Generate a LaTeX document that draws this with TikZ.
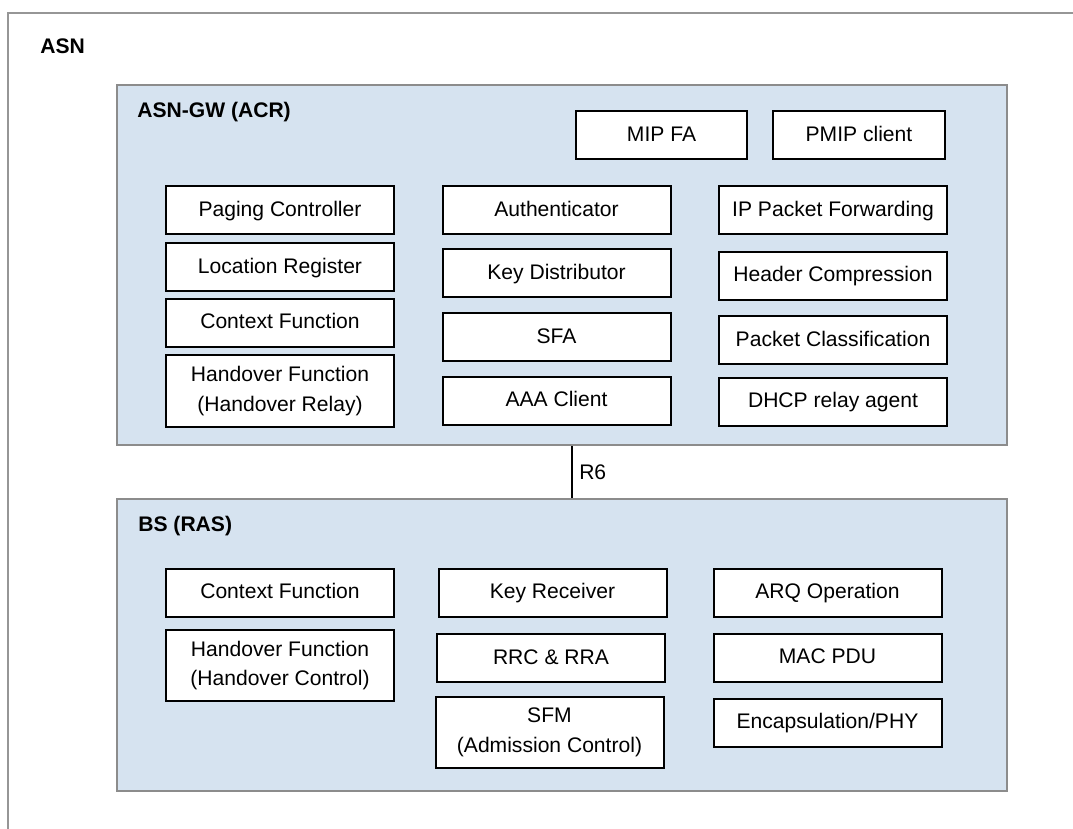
\documentclass[tikz,border=0pt]{standalone}
\usepackage{fontspec}
\setmainfont{Liberation Sans}
\usepackage{tikz}
\definecolor{panelblue}{RGB}{214,227,240}
\definecolor{framegray}{RGB}{150,150,150}
\definecolor{panelgray}{RGB}{140,140,140}

\tikzset{
  boxbase/.style={draw=black, fill=white, line width=0.4mm, minimum width=45.6mm,
    inner sep=1pt, align=center},
  fbox/.style={boxbase, minimum height=9.6mm, text height=1.75ex, text depth=0.45ex},
  tallbox/.style={boxbase, minimum height=14.3mm},
  smallbox/.style={fbox, minimum width=34.3mm},
  panel/.style={draw=panelgray, fill=panelblue, line width=0.4mm, minimum width=178mm},
  title/.style={anchor=west, inner sep=0pt, font=\bfseries\fontsize{12}{14}\selectfont}
}

\begin{document}
\begin{tikzpicture}[font=\fontsize{12}{17}\selectfont]
                  % Flip the canvas so (0,0) is at the top left, one unit per pixel
                  \begin{scope}[yscale=-1, x=0.2mm, y=0.2mm]
                      \useasboundingbox (0,0) rectangle (1073,829);

                      % Draw the ASN frame (only top and left edges show)
                      \draw[framegray, line width=0.4mm] (8,829) -- (8,13) -- (1073,13);
                      \node[title] (asn) at (40,46) {ASN};

                      % Draw the two blue panels
                      \node[panel, minimum height=72mm] (asngw) at (562,265) {};
                      \node[panel, minimum height=58.4mm] (bs) at (562,645) {};
                      \node[title] (asngwtitle) at (137,112) {ASN-GW (ACR)};
                      \node[title] (bstitle) at (138,526) {BS (RAS)};

                      % Draw the R6 link between the panels
                      \coordinate (r6) at (572,472);
                      \draw[line width=0.3mm] (r6 |- asngw.south) -- (r6 |- bs.north)
                        node[midway, anchor=west, inner sep=0pt, xshift=1.3mm] (r6label) {R6};

                      % ASN-GW: top row
                      \node[smallbox] (mipfa) at (661.5,135) {MIP FA};
                      \node[smallbox] (pmip) at (859,135) {PMIP client};

                      % ASN-GW: left column
                      \foreach \name/\y/\txt in {pc/210/Paging Controller, lr/267/Location Register, cfa/322.5/Context Function}
                      \node[fbox] (\name) at (280,\y) {\txt};
                      \node[tallbox] (hfa) at (280,391) {Handover Function\\(Handover Relay)};

                      % ASN-GW: middle column
                      \foreach \name/\y/\txt in {auth/210/Authenticator, kd/273/Key Distributor, sfa/337/SFA, aaa/400.5/AAA Client}
                      \node[fbox] (\name) at (556.5,\y) {\txt};

                      % ASN-GW: right column
                      \foreach \name/\y/\txt in {ipf/210/IP Packet Forwarding, hc/275.5/Header Compression, pcl/340/Packet Classification, dhcp/401.5/DHCP relay agent}
                      \node[fbox] (\name) at (833,\y) {\txt};

                      % BS: left column
                      \node[fbox] (cfb) at (280,592.5) {Context Function};
                      \node[tallbox] (hfb) at (280,665.5) {Handover Function\\(Handover Control)};

                      % BS: middle column
                      \node[fbox] (kr) at (552.5,592.5) {Key Receiver};
                      \node[fbox] (rrc) at (551,658) {RRC \& RRA};
                      \node[tallbox] (sfm) at (549.5,732.5) {SFM\\(Admission Control)};

                      % BS: right column
                      \foreach \name/\y/\txt in {arq/592.5/ARQ Operation, mac/657.5/MAC PDU, enc/722.5/{Encapsulation/PHY}}
                      \node[fbox] (\name) at (827.5,\y) {\txt};
                  \end{scope}
              \end{tikzpicture}
\end{document}
